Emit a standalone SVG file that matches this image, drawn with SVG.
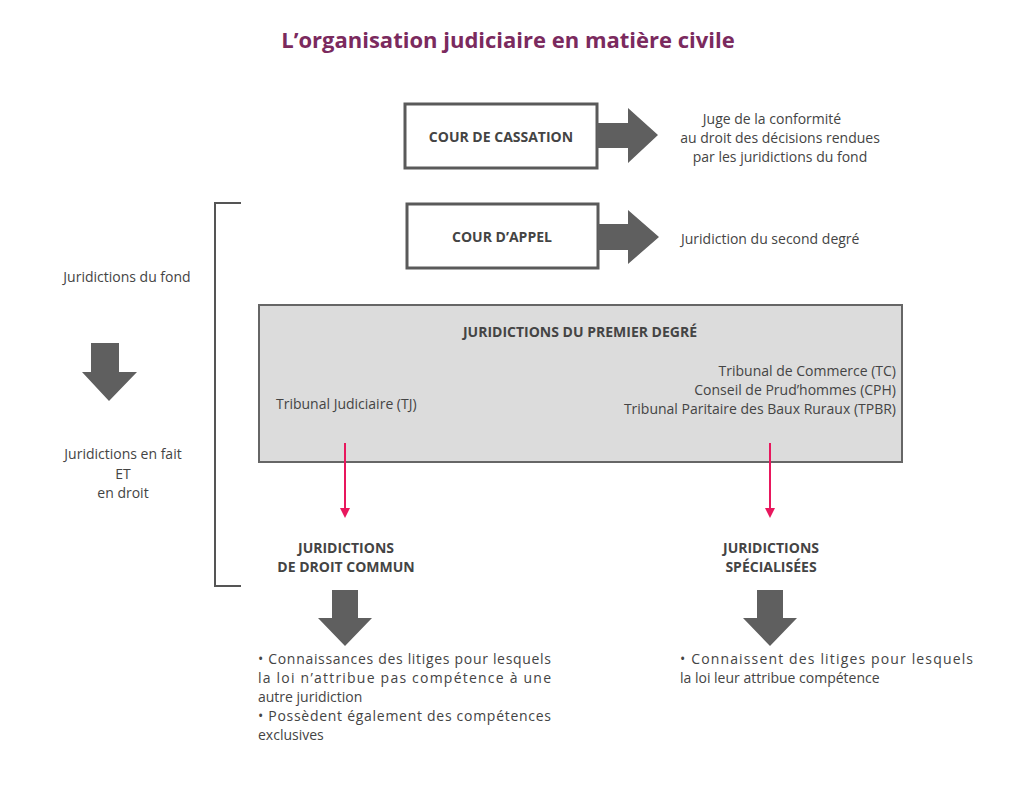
<svg xmlns="http://www.w3.org/2000/svg" width="1021" height="794" viewBox="0 0 1021 794">
<style>
text{font-family:"Open Sans","Liberation Sans",sans-serif;font-size:14px;fill:#444}
.b{font-weight:bold}
.box{fill:#fff;stroke:#5a5a5a;stroke-width:3}
.ar{fill:#5f5f5f}
.pk{stroke:#e8175d;stroke-width:2;fill:none}
</style>
<defs><marker id="pm" markerWidth="10" markerHeight="10" refX="5" refY="5" orient="auto" markerUnits="userSpaceOnUse"><path d="M0,0 L10,5 L0,10 Z" fill="#e8175d"/></marker></defs>
<rect width="1021" height="794" fill="#fff"/>
<text x="508" y="48" text-anchor="middle" class="b" style="font-size:22px;fill:#7b2a5e">L’organisation judiciaire en matière civile</text>
<g id="cassation"><rect class="box" x="405" y="104" width="192" height="64"/><text x="501" y="142" text-anchor="middle" class="b">COUR DE CASSATION</text></g>
<g id="appel"><rect class="box" x="407" y="204" width="191" height="64"/><text x="502" y="242" text-anchor="middle" class="b">COUR D’APPEL</text></g>
<g id="premier"><rect x="259" y="305" width="643" height="157" fill="#dcdcdc" stroke="#666" stroke-width="2"/>
<text x="580" y="337" text-anchor="middle" class="b">JURIDICTIONS DU PREMIER DEGRÉ</text>
<text x="276" y="409">Tribunal Judiciaire (TJ)</text>
<text x="896" y="376" text-anchor="end">Tribunal de Commerce (TC)</text>
<text x="896" y="395" text-anchor="end">Conseil de Prud’hommes (CPH)</text>
<text x="896" y="414" text-anchor="end">Tribunal Paritaire des Baux Ruraux (TPBR)</text></g>
<g id="labels">
<text x="772" y="124" text-anchor="middle">Juge de la conformité</text>
<text x="780" y="143" text-anchor="middle">au droit des décisions rendues</text>
<text x="780" y="162" text-anchor="middle">par les juridictions du fond</text>
<text x="681" y="244">Juridiction du second degré</text>
<text x="127" y="282" text-anchor="middle">Juridictions du fond</text>
<text x="123" y="459" text-anchor="middle">Juridictions en fait</text>
<text x="123" y="479" text-anchor="middle">ET</text>
<text x="123" y="498" text-anchor="middle">en droit</text>
<text x="346" y="553" text-anchor="middle" class="b">JURIDICTIONS</text>
<text x="346" y="572" text-anchor="middle" class="b">DE DROIT COMMUN</text>
<text x="771" y="553" text-anchor="middle" class="b">JURIDICTIONS</text>
<text x="771" y="572" text-anchor="middle" class="b">SPÉCIALISÉES</text>
<text x="258" y="664" textLength="293" lengthAdjust="spacing">• Connaissances des litiges pour lesquels</text>
<text x="258" y="683" textLength="293" lengthAdjust="spacing">la loi n’attribue pas compétence à une</text>
<text x="258" y="702">autre juridiction</text>
<text x="258" y="721" textLength="293" lengthAdjust="spacing">• Possèdent également des compétences</text>
<text x="258" y="740">exclusives</text>
<text x="680" y="664" textLength="293" lengthAdjust="spacing">• Connaissent des litiges pour lesquels</text>
<text x="680" y="683">la loi leur attribue compétence</text>
</g>
<g id="connectors">
<path d="M241,203 H215 V586 H241" fill="none" stroke="#555" stroke-width="2"/>
<path class="ar" d="M597,123 H628 V108 L658,135 L628,163 V148 H597 Z"/>
<path class="ar" d="M598,224 H628 V210 L659,237 L628,264 V250 H598 Z"/>
<path class="ar" d="M91,343 H119 V372 H137 L109,401 L82,372 H91 Z"/>
<path class="ar" d="M332,590 H358 V618 H372 L345,646 L318,618 H332 Z"/>
<path class="ar" d="M757,590 H783 V618 H797 L770,646 L743,618 H757 Z"/>
<line class="pk" x1="345" y1="443" x2="345" y2="513" marker-end="url(#pm)"/>
<line class="pk" x1="770" y1="443" x2="770" y2="513" marker-end="url(#pm)"/>
</g>
</svg>
